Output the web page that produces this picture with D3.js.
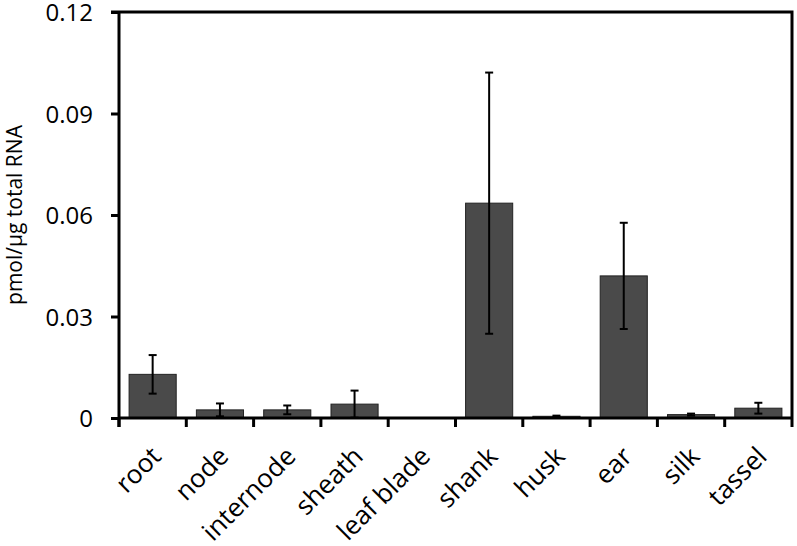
<!DOCTYPE html>
<html>
<head>
<meta charset="utf-8">
<script src="https://cdn.jsdelivr.net/npm/d3@7"></script>
<style>
  body { margin: 0; background: #fff; }
  text { font-family: "Open Sans", "Noto Sans", sans-serif; fill: #000; }
</style>
</head>
<body>
<svg id="chart" width="797" height="546"></svg>
<script>
// tissues and transcript levels (pmol/µg total RNA)
const tissues = ["root", "node", "internode", "sheath", "leaf blade", "shank", "husk", "ear", "silk", "tassel"];
const means = [0.0129, 0.0024, 0.0024, 0.0041, 0.0001, 0.0635, 0.0005, 0.042, 0.001, 0.0029];
const errs = [0.0057, 0.0019, 0.0013, 0.0040, 0.0000, 0.0386, 0.0002, 0.0157, 0.0003, 0.0016];
const yTicks = [0, 0.03, 0.06, 0.09, 0.12];

const svg = d3.select("#chart");
const mLeft = 119, mRight = 792, mTop = 12, mBottom = 418;

const x = d3.scaleBand().domain(tissues).range([mLeft, mRight]).paddingInner(0.3).paddingOuter(0.15);
const y = d3.scaleLinear().domain([0, 0.12]).range([mBottom, mTop]);

// frame: top and right edges
svg.append("path")
  .attr("d", `M${mLeft - 8},${mTop}H${mRight}V${mBottom + 9}`)
  .attr("fill", "none").attr("stroke", "#000").attr("stroke-width", 3);

// bars
svg.selectAll("rect.bar")
  .data(tissues)
  .enter().append("rect")
    .attr("class", "bar")
    .attr("x", d => x(d))
    .attr("width", x.bandwidth())
    .attr("y", (d, i) => y(means[i]))
    .attr("height", (d, i) => mBottom - y(means[i]))
    .attr("fill", "#4a4a4a")
    .attr("stroke", "#222")
    .attr("stroke-width", 1);

// error bars
const eb = svg.append("g").attr("stroke", "#000").attr("stroke-width", 2);
tissues.forEach((t, i) => {
  if (errs[i] <= 0) return;
  const cx = x(t) + x.bandwidth() / 2;
  const y1 = y(means[i] + errs[i]), y0 = y(Math.max(0, means[i] - errs[i]));
  eb.append("line").attr("x1", cx).attr("x2", cx).attr("y1", y1).attr("y2", y0);
  eb.append("line").attr("x1", cx - 4).attr("x2", cx + 4).attr("y1", y1).attr("y2", y1);
  eb.append("line").attr("x1", cx - 4).attr("x2", cx + 4).attr("y1", y0).attr("y2", y0);
});

// y axis
const yAxis = svg.append("g")
  .attr("transform", `translate(${mLeft},0)`)
  .call(d3.axisLeft(y).tickValues(yTicks).tickFormat(d => d === 0 ? "0" : d3.format(".2f")(d)).tickSize(8).tickPadding(18));
yAxis.select(".domain").attr("d", `M0,${mTop}V${mBottom + 9}`).attr("stroke-width", 3);
yAxis.selectAll(".tick line").attr("stroke-width", 3);
yAxis.selectAll(".tick text")
  .attr("font-size", 24).attr("font-family", "\"Open Sans\", sans-serif")
  .attr("dy", "0.36em");

// x axis baseline with ticks at category boundaries
const xg = svg.append("g");
xg.append("line").attr("x1", mLeft).attr("x2", mRight).attr("y1", mBottom).attr("y2", mBottom)
  .attr("stroke", "#000").attr("stroke-width", 3);
const step = x.step();
d3.range(tissues.length).forEach(i => {
  const bx = mLeft + i * step;
  xg.append("line").attr("x1", bx).attr("x2", bx).attr("y1", mBottom).attr("y2", mBottom + 9)
    .attr("stroke", "#000").attr("stroke-width", 3);
});

// category labels
svg.selectAll("text.cat")
  .data(tissues)
  .enter().append("text")
    .attr("class", "cat")
    .attr("text-anchor", "end")
    .attr("transform", d => `translate(${x(d) + x.bandwidth() / 2 + 10},${mBottom + 40}) rotate(-45)`)
    .attr("font-size", 26)
    .text(d => d);

// y label
svg.append("text")
  .attr("transform", `translate(22,${(mTop + mBottom) / 2}) rotate(-90)`)
  .attr("text-anchor", "middle")
  .attr("font-size", 21)
  .text("pmol/µg total RNA");
</script>
</body>
</html>
